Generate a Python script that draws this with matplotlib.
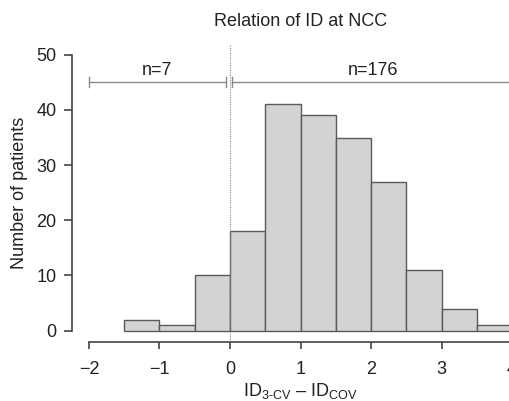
import matplotlib
matplotlib.use("Agg")
import matplotlib.pyplot as plt
import numpy as np

# Data
bin_edges = [-1.5, -1.0, -0.5, 0.0, 0.5, 1.0, 1.5, 2.0, 2.5, 3.0, 3.5, 4.0]
counts = [2, 1, 10, 18, 41, 39, 35, 27, 11, 4, 1]
x_ticks = [-2, -1, 0, 1, 2, 3, 4]
y_ticks = [0, 10, 20, 30, 40, 50]
group_labels = ["n=7", "n=176"]
group_spans = [(-2.0, -0.05), (0.03, 4.4)]
group_text_x = [-1.03, 2.03]

plt.rcParams['font.family'] = ['Liberation Sans', 'DejaVu Sans']
plt.rcParams['mathtext.fontset'] = 'custom'
plt.rcParams['mathtext.rm'] = 'Liberation Sans'
plt.rcParams['mathtext.it'] = 'Liberation Sans'

W, H = 510, 401
fig = plt.figure(figsize=(W / 100, H / 100), dpi=100)
left, right, top, bottom = 72, 529, 43.7, 341.7
ax = fig.add_axes([left / W, 1 - bottom / H, (right - left) / W, (bottom - top) / H])

txt = '#222222'
axc = '#444444'
fs = 13

lefts = bin_edges[:-1]
widths = np.diff(bin_edges)
ax.bar(lefts, counts, width=widths, align='edge', color='#d3d3d3',
       edgecolor='#5a5a5a', linewidth=1.0, zorder=2)

ax.set_xlim(-2.24, 4.24)
ax.set_ylim(-2, 52)

ax.axvline(0, color='#888888', linestyle=(0, (1, 1.2)), linewidth=0.8, zorder=3)

bc = '#8a8a8a'
for (a, b), lab, tx in zip(group_spans, group_labels, group_text_x):
    ax.plot([a, b], [45, 45], color=bc, linewidth=1.0, clip_on=False, zorder=3)
    for e in (a, b):
        ax.plot([e, e], [44.1, 45.9], color=bc, linewidth=1.0, clip_on=False, zorder=3)
    ax.text(tx, 46.3, lab, ha='center', va='baseline', fontsize=fs, color=txt)

for s in ['top', 'right']:
    ax.spines[s].set_visible(False)
ax.spines['left'].set_bounds(0, 50)
ax.spines['bottom'].set_bounds(-2, 4)
for s in ['left', 'bottom']:
    ax.spines[s].set_color(axc)
    ax.spines[s].set_linewidth(1.2)

ax.set_xticks(x_ticks)
ax.set_xticklabels(["\u2212" + str(abs(v)) if v < 0 else str(v) for v in x_ticks])
ax.set_yticks(y_ticks)
ax.tick_params(axis='both', colors=axc, labelcolor=txt, labelsize=fs, width=1.2)
ax.tick_params(axis='x', pad=9, length=5)
ax.tick_params(axis='y', pad=5, length=6)

fig.text(20 / W, 1 - 192.7 / H, "Number of patients", rotation=90,
         ha='center', va='center', fontsize=fs, color=txt)
fig.text(300.5 / W, 1 - 396 / H, "ID$_\\mathrm{3\u2010CV}$ \u2013 ID$_\\mathrm{COV}$",
         ha='center', va='baseline', fontsize=fs, color=txt)
fig.text(300.5 / W, 1 - 26 / H, "Relation of ID at NCC", ha='center', va='baseline',
         fontsize=fs, color=txt)

fig.savefig("out.png", dpi=100)
